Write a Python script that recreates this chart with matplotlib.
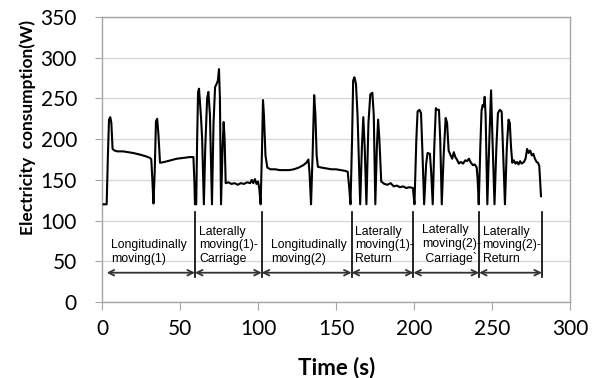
import matplotlib
matplotlib.use('Agg')
import matplotlib.pyplot as plt

t = [1, 3, 3.8, 4.5, 5.3, 6.0, 6.8, 8, 10, 13.6, 17, 20, 24.4, 28, 30.8, 31.6, 32.3, 33.0, 33.8, 34.6, 35.4, 36.2, 37.2, 40, 44, 48, 52, 56.4, 58.6, 59.2, 59.6,
     60.4, 61, 61.6, 62.2, 62.8, 63.5, 64.2, 65.3, 66.2, 67.4, 68.2, 69.2, 70.5, 71.5, 72.5, 73.5, 74.3, 75, 75.6, 76.3, 77.3, 78, 78.6, 79.3,
     81, 83, 85, 87, 89, 91, 93, 95, 96, 97, 98, 99, 100, 100.8, 101.7,
     102.6, 103.2, 103.8, 104.8, 106, 108, 111, 114, 117, 120, 123, 126, 129, 131, 132.3, 133, 134, 135, 136, 136.8, 137.6, 138.4,
     141, 144, 147, 150, 153, 156, 157.5, 158.5, 159.3,
     160.3, 161, 161.8, 162.8, 163.8, 165.5, 166.6, 167.5, 168.4, 169.5, 170.8, 172, 173.3, 174.2, 175.2, 176.2, 177, 177.8, 179,
     181, 183, 185, 187, 189, 191, 193, 195, 197, 199.3, 200.3,
     201.5, 202.3, 203.5, 204.5, 205.3, 206.5, 207.8, 208.7, 210.2, 211, 212, 213, 214, 215, 216, 216.8, 217.8, 219, 220.3, 221.2, 222.2,
     223.5, 224.5, 225.5, 226.5, 227.5, 228.8, 230, 231.5, 232.8, 234, 235.2, 236.5, 237.8, 239, 240.2, 240.8, 241.5,
     242.5, 243.3, 244, 244.8, 245.3, 245.9, 247, 248.3, 249.4, 250.3, 251.6, 252.8, 253.8, 255, 256.2, 257.2, 258.3, 259.5, 260.6, 261.4, 262.2,
     263, 264, 265, 266, 267, 268, 269, 270.5, 271.5, 272.5, 273.5, 274.5, 275.5, 276.5, 277.5, 278.6, 279.5, 280.3, 281.4]
power = [120, 120, 180, 224, 227, 220, 188, 186, 185, 185, 184, 183, 181, 179, 177, 175, 150, 121, 160, 222, 225, 205, 171, 172, 174, 176, 177, 178, 178, 150, 120,
         120, 200, 258, 262, 245, 226, 200, 120, 190, 250, 258, 230, 120, 220, 264, 268, 272, 286, 250, 120, 190, 221, 200, 146,
         147, 145, 146, 144, 146, 145, 147, 146, 150, 146, 151, 145, 148, 140, 120,
         190, 248, 230, 180, 165, 163, 163, 162, 162, 162, 163, 165, 168, 171, 175, 160, 120, 180, 254, 230, 180, 166,
         165, 164, 163, 163, 162, 161, 160, 140, 120,
         200, 272, 276, 268, 230, 120, 190, 227, 190, 120, 220, 255, 257, 230, 120, 190, 224, 200, 148,
         145, 144, 146, 142, 143, 141, 142, 140, 141, 140, 120,
         200, 234, 236, 232, 190, 120, 170, 183, 182, 160, 120, 190, 238, 236, 236, 200, 120, 180, 226, 220, 186,
         180, 176, 184, 178, 175, 170, 172, 170, 174, 173, 176, 171, 168, 169, 165, 150, 120,
         190, 235, 242, 240, 252, 230, 120, 200, 260, 200, 120, 190, 232, 236, 234, 180, 120, 190, 224, 220, 190,
         171, 174, 170, 172, 169, 173, 170, 172, 176, 188, 183, 186, 180, 182, 176, 172, 171, 167, 130]

# phase boundaries and labels
bounds = [3, 59.6, 102.4, 160, 199.6, 241.7, 282]
labels = ['Longitudinally\nmoving(1)', 'Laterally\nmoving(1)-\nCarriage', 'Longitudinally\nmoving(2)',
          'Laterally\nmoving(1)-\nReturn', 'Laterally\nmoving(2)-\n Carriage`', 'Laterally\nmoving(2)-\nReturn']
label_x = [5.8, 62.2, 108.3, 162, 205, 244]

fig = plt.figure(figsize=(5.95, 3.78), dpi=100)
ax = fig.add_axes([0.1714, 0.201, 0.7866, 0.754])

ax.plot(t, power, color='black', lw=1.5, solid_joinstyle='round', zorder=3)

for b in bounds[1:]:
    ax.plot([b, b], [31, 110], color='black', lw=1.2, zorder=3)
for a, b in zip(bounds[:-1], bounds[1:]):
    ax.annotate('', xy=(a, 36), xytext=(b, 36),
                arrowprops=dict(arrowstyle='<->', color='#333333', lw=1.3, mutation_scale=10,
                                shrinkA=0, shrinkB=0))
for x, s in zip(label_x, labels):
    # baseline of the last line
    ax.text(x, 49, s, ha='left', va='baseline', fontsize=8.8, family='Liberation Sans',
            linespacing=1.2, zorder=4)

ax.set_xlim(0, 300)
ax.set_ylim(0, 350)
ax.set_xticks(range(0, 301, 50))
ax.set_yticks(range(0, 351, 50))
ax.yaxis.grid(True, color='#d9d9d9', lw=1)
ax.set_axisbelow(True)
for sp in ax.spines.values():
    sp.set_color('#a6a6a6')
    sp.set_linewidth(1)
ax.tick_params(axis='x', direction='out', length=6, color='#a6a6a6', labelsize=15, pad=6)
ax.tick_params(axis='y', direction='out', length=5, color='#a6a6a6', labelsize=15, pad=13)
for lab in ax.get_xticklabels() + ax.get_yticklabels():
    lab.set_family('Lato')

ax.set_xlabel('Time (s)', fontsize=16, fontweight='bold', family='Lato')
ax.set_ylabel('Electricity  consumption(W)', fontsize=12.5, fontweight='bold', family='Lato')
ax.xaxis.set_label_coords(0.502, -0.19)
ax.yaxis.set_label_coords(-0.141, 0.614)

fig.savefig('out.png', dpi=100)
